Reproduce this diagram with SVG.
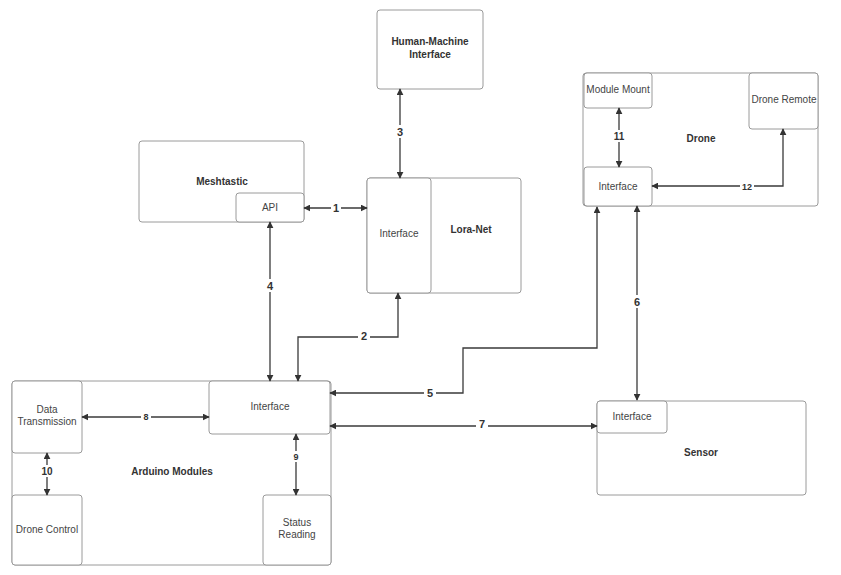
<svg xmlns="http://www.w3.org/2000/svg" width="841" height="575" viewBox="0 0 841 575">
<style>
.b{fill:#fff;stroke:#9a9a9a;stroke-width:1}
.t{font-family:"Liberation Sans",Arial,sans-serif;font-size:10px;fill:#444;text-anchor:middle}
.bd{font-weight:bold;fill:#333}
.c{fill:none;stroke:#3a3a3a;stroke-width:1.3;marker-start:url(#a);marker-end:url(#a)}
.n{font-family:"Liberation Sans",Arial,sans-serif;font-size:11px;font-weight:bold;fill:#333;text-anchor:middle}
.nb{fill:#fff}
</style>
<defs><marker id="a" viewBox="0 0 10 10" refX="9" refY="5" markerWidth="7" markerHeight="7" markerUnits="userSpaceOnUse" orient="auto-start-reverse"><path d="M0,0L10,5L0,10z" fill="#333"/></marker></defs>
<rect width="841" height="575" fill="#fff"/>
<g id="hmi"><rect class="b" x="377" y="10" width="106" height="79" rx="3"/><text class="t bd" x="430" y="45">Human-Machine</text><text class="t bd" x="430" y="58">Interface</text></g>
<g id="meshtastic"><rect class="b" x="139" y="141" width="165" height="81" rx="3"/><text class="t bd" x="222" y="185">Meshtastic</text>
<rect class="b" x="236" y="193" width="68" height="29" rx="3"/><text class="t" x="270" y="211">API</text></g>
<g id="loranet"><rect class="b" x="367" y="178" width="154" height="115" rx="3"/><rect class="b" x="367" y="178" width="64" height="115" rx="3"/><text class="t" x="399" y="237">Interface</text><text class="t bd" x="471" y="233">Lora-Net</text></g>
<g id="drone"><rect class="b" x="583" y="73" width="235" height="133" rx="3"/><text class="t bd" x="701" y="142">Drone</text>
<rect class="b" x="584" y="73" width="68" height="35" rx="3"/><text class="t" x="618" y="93">Module Mount</text>
<rect class="b" x="749" y="73" width="69" height="56" rx="3"/><text class="t" x="784" y="103">Drone Remote</text>
<rect class="b" x="584" y="167" width="68" height="39" rx="3"/><text class="t" x="618" y="190">Interface</text></g>
<g id="sensor"><rect class="b" x="597" y="401" width="209" height="94" rx="3"/><rect class="b" x="597" y="401" width="70" height="32" rx="3"/><text class="t" x="632" y="420">Interface</text><text class="t bd" x="701" y="456">Sensor</text></g>
<g id="arduino"><rect class="b" x="12" y="381" width="319" height="184" rx="3"/><text class="t bd" x="172" y="475">Arduino Modules</text>
<rect class="b" x="209" y="381" width="121" height="53" rx="3"/><text class="t" x="270" y="410">Interface</text>
<rect class="b" x="12" y="381" width="70" height="72" rx="3"/><text class="t" x="47" y="413">Data</text><text class="t" x="47" y="425">Transmission</text>
<rect class="b" x="12" y="495" width="70" height="70" rx="3"/><text class="t" x="47" y="533">Drone Control</text>
<rect class="b" x="263" y="495" width="68" height="70" rx="3"/><text class="t" x="297" y="526">Status</text><text class="t" x="297" y="538">Reading</text></g>
<g id="connectors">
<path class="c" d="M400,89V178"/>
<path class="c" d="M304,208H367"/>
<path class="c" d="M270,222V381"/>
<path class="c" d="M398,293V337H298V381"/>
<path class="c" d="M597,207V348H463V393H330"/>
<path class="c" d="M619,108V167"/>
<path class="c" d="M783,129V186H652"/>
<path class="c" d="M637,206V400"/>
<path class="c" d="M330,426H597"/>
<path class="c" d="M82,417H209"/>
<path class="c" d="M296,434V495"/>
<path class="c" d="M47,453V495"/>
<g class="n">
<rect class="nb" x="394" y="125" width="12" height="13"/><text x="400" y="136">3</text>
<rect class="nb" x="331" y="201" width="10" height="13"/><text x="336" y="212">1</text>
<rect class="nb" x="264" y="279" width="12" height="13"/><text x="270" y="290">4</text>
<rect class="nb" x="358" y="329" width="12" height="13"/><text x="364" y="340">2</text>
<rect class="nb" x="424" y="386" width="12" height="13"/><text x="430" y="397">5</text>
<rect class="nb" x="631" y="295" width="12" height="13"/><text x="637" y="306">6</text>
<rect class="nb" x="476" y="418" width="12" height="13"/><text x="482" y="428">7</text>
<rect class="nb" x="141" y="411" width="10" height="11"/><text x="146" y="420" font-size="9">8</text>
<rect class="nb" x="291" y="451" width="10" height="11"/><text x="296" y="460" font-size="9">9</text>
<rect class="nb" x="40" y="465" width="14" height="12"/><text x="47" y="475" font-size="10">10</text>
<rect class="nb" x="612" y="130" width="14" height="12"/><text x="619" y="140" font-size="10">11</text>
<rect class="nb" x="740" y="181" width="14" height="11"/><text x="747" y="190" font-size="9">12</text>
</g></g>
</svg>
